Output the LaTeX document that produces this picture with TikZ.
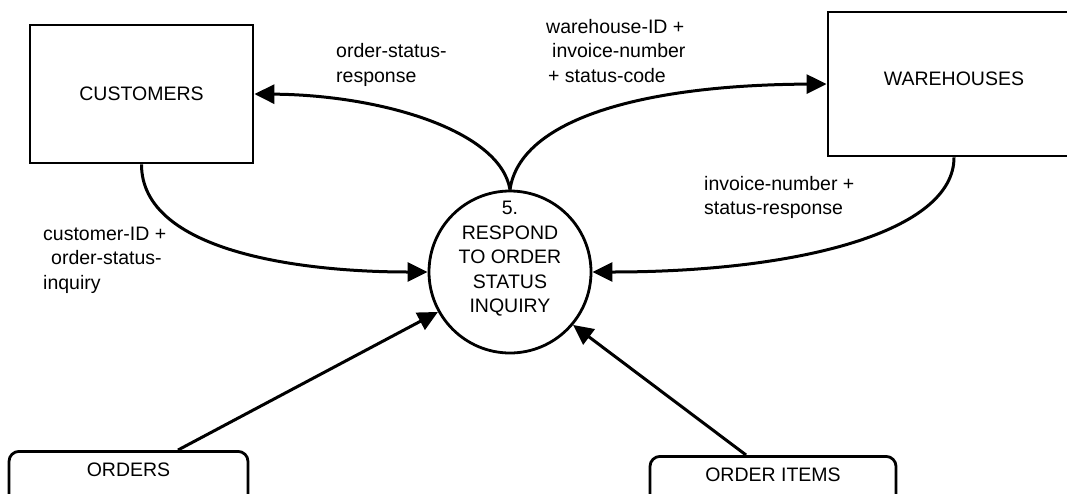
\documentclass[tikz,border=0pt]{standalone}
\usepackage{fontspec}
\setmainfont{Liberation Sans}
\usetikzlibrary{arrows.meta}
\begin{document}
\begin{tikzpicture}[x=1pt,y=-1pt,
  font=\fontsize{19.5}{24.5}\selectfont,
  every node/.style={inner sep=0pt},
  entity/.style={draw, line width=2.8pt, rectangle, align=center},
  store/.style={draw, line width=2.8pt, rounded corners=10pt, anchor=north,
    inner xsep=0pt, inner ysep=11pt, text height=14pt, text depth=40pt},
  proc/.style={draw, circle, line width=2.8pt, minimum size=162pt},
  flow/.style={line width=3pt, -{Triangle[length=20pt,width=19pt]}},
  lbl/.style={align=left, anchor=west}]
\useasboundingbox (0,0) rectangle (1067,493);
\clip (0,0) rectangle (1067,493);
\fill[white] (0,0) rectangle (1067,493);

% external entities
\node[entity, minimum width=223pt, minimum height=138pt] (cust) at (141.5,94) {CUSTOMERS};
\node[entity, minimum width=252pt, minimum height=144pt, text height=14pt, text depth=12pt] (ware) at (954,84) {WAREHOUSES};

% process
\node[proc] (proc) at (510,272) {};
\node[align=center] (proctext) at (510,259) {5.\\RESPOND\\TO ORDER\\STATUS\\INQUIRY};

% data stores
\node[store, minimum width=239pt] (orders) at (128.5,450) {ORDERS};
\node[store, minimum width=246pt] (items) at (773,455) {ORDER ITEMS};

% flows
\draw[flow] (cust.south) .. controls +(0,87) and (300,272) .. (proc.west);
\draw[flow] (proc.north) .. controls (500,130) and (380,95) .. (cust.east);
\draw[flow] (proc.north) .. controls (520,120) and (640,85) .. (ware.west);
\draw[flow] (ware.south) .. controls +(0,74) and (800,272) .. (proc.east);
\draw[flow] ([xshift=49.5pt]orders.north) -- (proc.209);
\draw[flow] ([xshift=-27pt]items.north) -- (proc.320);

% flow labels
\node[lbl] (l1) at (336,65) {order-status-\\response};
\node[lbl] (l2) at (546,51) {warehouse-ID +\\\hspace*{6pt}invoice-number\\\hspace*{2pt}+ status-code};
\node[lbl] (l3) at (704,197.5) {invoice-number +\\status-response};
\node[lbl] (l4) at (43,260) {customer-ID +\\\hspace*{8pt}order-status-\\inquiry};
\end{tikzpicture}
\end{document}
